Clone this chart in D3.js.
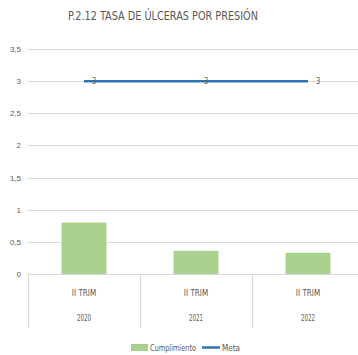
<!DOCTYPE html>
<html>
<head>
<meta charset="utf-8">
<script src="https://cdn.jsdelivr.net/npm/d3@7"></script>
<style>
  html, body { margin: 0; padding: 0; background: #fff; }
  svg { display: block; font-family: "Liberation Sans Narrow", "Arial Narrow", "DejaVu Sans", sans-serif; font-stretch: condensed; }
</style>
</head>
<body>
<svg id="chart" width="358" height="355"></svg>
<script>
// Chart data
const title = "P.2.12 TASA DE ÚLCERAS POR PRESIÓN";
const periods = ["II TRIM", "II TRIM", "II TRIM"];
const years = ["2020", "2021", "2022"];
const cumplimiento = [0.8, 0.36, 0.33];
const meta = [3, 3, 3];
const yTicks = [0, 0.5, 1, 1.5, 2, 2.5, 3, 3.5];
const legendLabels = ["Cumplimiento", "Meta"];

const svg = d3.select("#chart");
const W = 358, H = 355;
const plot = { left: 28, right: 364, top: 49, bottom: 274 };

const keys = years.map((y, i) => i);
const x = d3.scaleBand().domain(keys).range([plot.left, plot.right]).paddingInner(0).paddingOuter(0);
const y = d3.scaleLinear().domain([0, 3.5]).range([plot.bottom, plot.top]);

const gridColor = "#d9d9d9";
const textColor = "#595959";
const barColor = "#a9d18e";
const lineColor = "#2e75b6";
const fmt = v => String(v).replace(".", ",");

// Title, fitted to a narrow width
svg.append("text")
  .attr("x", 68).attr("y", 20)
  .attr("font-size", 12.5)
  .attr("fill", textColor)
  .attr("textLength", 190)
  .attr("lengthAdjust", "spacingAndGlyphs")
  .text(title);

// Horizontal gridlines
svg.append("g").selectAll("line").data(yTicks.filter(t => t > 0)).join("line")
  .attr("x1", plot.left).attr("x2", W)
  .attr("y1", d => Math.round(y(d)) + 0.5).attr("y2", d => Math.round(y(d)) + 0.5)
  .attr("stroke", gridColor).attr("stroke-width", 1);

// Y axis labels
const yAxis = d3.axisLeft(y).tickValues(yTicks).tickFormat(fmt).tickSize(0).tickPadding(6);
const gy = svg.append("g").attr("transform", `translate(${plot.left - 1},0)`).call(yAxis);
gy.select(".domain").remove();
gy.selectAll("text").attr("fill", textColor).attr("font-size", 8)
  .attr("font-family", null);

// Bars
svg.append("g").selectAll("rect").data(cumplimiento).join("rect")
  .attr("x", (d, i) => x(i) + x.bandwidth() * 0.3)
  .attr("width", x.bandwidth() * 0.4)
  .attr("y", d => y(d))
  .attr("height", d => y(0) - y(d))
  .attr("fill", barColor);

// Category axis baseline
svg.append("line")
  .attr("x1", plot.left).attr("x2", W)
  .attr("y1", plot.bottom + 0.5).attr("y2", plot.bottom + 0.5)
  .attr("stroke", gridColor);

// Category separators (two-level axis)
svg.append("g").selectAll("line").data(keys).join("line")
  .attr("x1", d => Math.round(x(d)) + 0.5).attr("x2", d => Math.round(x(d)) + 0.5)
  .attr("y1", plot.bottom).attr("y2", 328)
  .attr("stroke", gridColor);

// Category labels
const catG = svg.append("g").attr("fill", textColor).attr("font-size", 8).attr("text-anchor", "middle");
catG.selectAll("text.period").data(periods).join("text")
  .attr("class", "period")
  .attr("x", (d, i) => x(i) + x.bandwidth() / 2)
  .attr("y", 296)
  .text(d => d);
catG.selectAll("text.year").data(years).join("text")
  .attr("class", "year")
  .attr("x", (d, i) => x(i) + x.bandwidth() / 2)
  .attr("y", 321)
  .attr("textLength", 14)
  .attr("lengthAdjust", "spacingAndGlyphs")
  .text(d => d);

// Meta line
const line = d3.line().x((d, i) => x(i) + x.bandwidth() / 2).y(d => y(d));
svg.append("path")
  .datum(meta)
  .attr("d", line)
  .attr("fill", "none")
  .attr("stroke", lineColor)
  .attr("stroke-width", 2.5);

// Meta value labels
svg.append("g").selectAll("text").data(meta).join("text")
  .attr("x", (d, i) => x(i) + x.bandwidth() / 2 + 10)
  .attr("y", d => y(d) + 3)
  .attr("text-anchor", "middle")
  .attr("font-size", 8)
  .attr("fill", textColor)
  .text(d => d);

// Legend
const lg = svg.append("g").attr("font-size", 8).attr("fill", textColor);
lg.append("rect").attr("x", 131).attr("y", 344).attr("width", 17).attr("height", 7).attr("fill", barColor);
lg.append("text").attr("x", 150).attr("y", 351)
  .attr("textLength", 46).attr("lengthAdjust", "spacingAndGlyphs")
  .text(legendLabels[0]);
lg.append("line").attr("x1", 202).attr("x2", 220).attr("y1", 347.5).attr("y2", 347.5)
  .attr("stroke", lineColor).attr("stroke-width", 2.5);
lg.append("text").attr("x", 222).attr("y", 351)
  .attr("textLength", 18).attr("lengthAdjust", "spacingAndGlyphs")
  .text(legendLabels[1]);
</script>
</body>
</html>
